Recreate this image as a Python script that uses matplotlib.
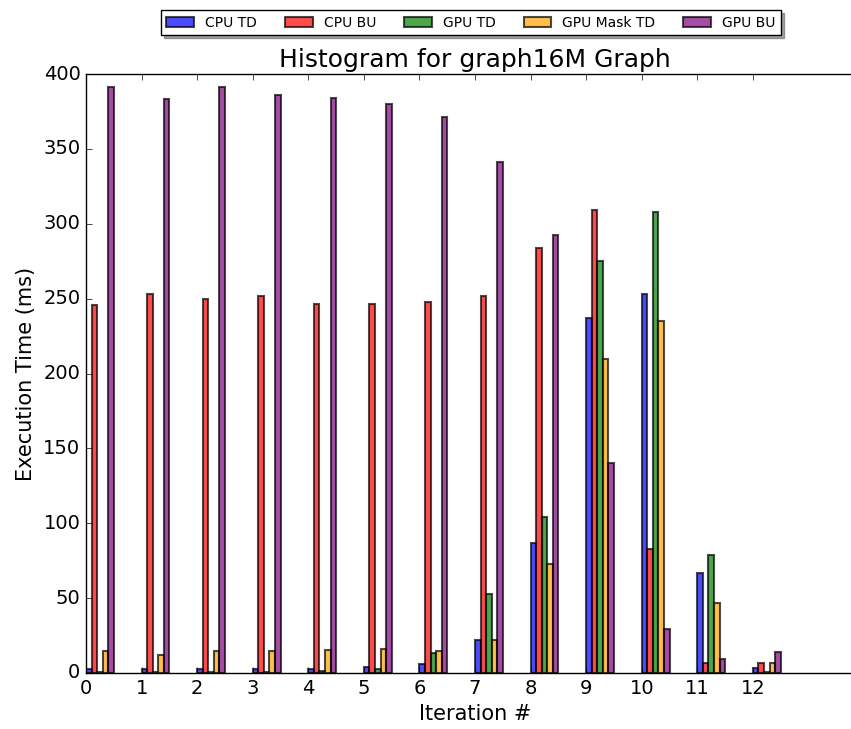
import matplotlib
matplotlib.use('Agg')
import matplotlib.pyplot as plt
import numpy as np

# --- datos (ms por iteracion) ---
iteraciones = list(range(13))
cpu_td      = [3, 3, 3, 3, 3, 4, 6, 22, 87, 237, 253, 66.5, 3.6]
cpu_bu      = [246, 253, 250, 252, 246.5, 246.5, 248, 252, 284, 309, 83, 7, 6.5]
gpu_td      = [1, 1, 1, 1, 1.5, 3, 13.5, 53, 104, 275, 308, 79, 0.5]
gpu_mask_td = [15, 12, 14.5, 14.5, 15.5, 16, 15, 22, 72.5, 210, 235, 46.5, 6.5]
gpu_bu      = [391, 383, 391, 386, 384, 380, 371, 341, 292.5, 140.5, 29.5, 9.3, 14.2]

series = [
    ("CPU TD",      cpu_td,      "blue"),
    ("CPU BU",      cpu_bu,      "red"),
    ("GPU TD",      gpu_td,      "green"),
    ("GPU Mask TD", gpu_mask_td, "orange"),
    ("GPU BU",      gpu_bu,      "purple"),
]

plt.style.use('classic')
fig = plt.figure(figsize=(8.51, 7.29), dpi=100, facecolor='white')
# el eje derecho queda fuera del lienzo, como en la imagen original
ax = fig.add_axes([86 / 851, 56 / 729, 778 / 851, 599 / 729])

ancho = 0.1
x = np.arange(len(iteraciones))
for k, (nombre, valores, color) in enumerate(series):
    ax.bar(x + k * ancho, valores, ancho, align='edge', color=color,
           alpha=0.7, edgecolor='black', linewidth=1.5, label=nombre)

ax.set_xlim(0, 14)
ax.set_ylim(0, 400)
ax.set_xticks(x)
ax.set_xticklabels([str(i) for i in iteraciones])
ax.set_yticks(np.arange(0, 401, 50))
ax.tick_params(labelsize=14)

ax.set_title("Histogram for graph16M Graph", fontsize=18)
ax.set_xlabel("Iteration #", fontsize=15)
ax.set_ylabel("Execution Time (ms)", fontsize=15)

ax.legend(loc='upper center', bbox_to_anchor=(471 / 851, 1 - 10 / 729),
          bbox_transform=fig.transFigure, ncol=5, fontsize=10,
          shadow=True, fancybox=False, borderaxespad=0.0)

fig.savefig("out.png", dpi=100, facecolor='white')
